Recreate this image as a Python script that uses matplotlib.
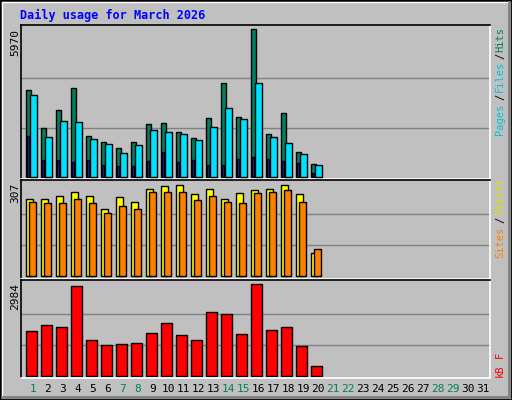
import matplotlib
matplotlib.use("Agg")
import matplotlib.pyplot as plt
from matplotlib.patches import Rectangle

days = list(range(1, 32))
n = 20  # days with data
hits = [3493, 1990, 2721, 3574, 1665, 1421, 1178, 1421, 2152, 2193,
        1828, 1584, 2396, 3777, 2437, 5970, 1746, 2599, 1015, 528]
files = [3318, 1612, 2262, 2221, 1531, 1328, 962, 1287, 1896, 1815,
         1734, 1490, 2018, 2790, 2343, 3805, 1612, 1368, 922, 475]
pages = [1652, 678, 678, 597, 678, 475, 434, 434, 637, 1003,
         597, 678, 475, 475, 719, 800, 719, 637, 556, 150]
visits = [252, 252, 262, 275, 262, 222, 259, 242, 285, 295,
          301, 269, 288, 252, 272, 282, 288, 301, 269, 75]
sites = [242, 239, 239, 255, 239, 206, 232, 219, 275, 278,
         278, 249, 262, 242, 239, 272, 275, 282, 245, 88]
kbytes = [1418, 1610, 1546, 2857, 1130, 970, 1002, 1034, 1354, 1674,
          1290, 1130, 2025, 1961, 1322, 2921, 1450, 1546, 938, 298]
weekend = [1, 7, 8, 14, 15, 21, 22, 28, 29]

BG = "#C0C0C0"
W, H = 512, 400
fig = plt.figure(figsize=(5.12, 4.0), dpi=100)
fig.patch.set_facecolor(BG)

# 3D frame
def px(x, y, w, h):
    return [x / W, 1 - (y + h) / H, w / W, h / H]

fig.add_artist(Rectangle((0, 0), 1, 1, transform=fig.transFigure, fill=False, ec="black", lw=2))
fig.add_artist(plt.Line2D([2 / W, 2 / W, 1 - 3 / W], [3 / H, 1 - 2 / H, 1 - 2 / H], transform=fig.transFigure, color="white", lw=1))
fig.add_artist(plt.Line2D([2 / W, 1 - 3 / W, 1 - 3 / W], [3 / H, 3 / H, 1 - 2 / H], transform=fig.transFigure, color="#808080", lw=2))

x = list(range(1, n + 1))
XL = (0.27, 31.53)


def setup(ax, ymin, ymax, grids):
    ax.set_facecolor(BG)
    ax.set_xlim(*XL)
    ax.set_ylim(ymin, ymax)
    ax.set_xticks([])
    ax.set_yticks([])
    for g in grids:
        ax.axhline(g, color="#808080", lw=1, zorder=0)
    ax.spines["top"].set_color("black")
    ax.spines["left"].set_color("black")
    ax.spines["bottom"].set_color("white")
    ax.spines["right"].set_color("white")
    for s in ax.spines.values():
        s.set_linewidth(1.2)


bar_kw = dict(align="edge", edgecolor="black", linewidth=1)

ax1 = fig.add_axes(px(21, 25, 469, 154))
setup(ax1, -81, 6133, [1990, 3980])
ax1.bar([i - 0.42 for i in x], hits, width=0.35, color="#008060", **bar_kw, zorder=2)
ax1.bar([i - 0.15 for i in x], files, width=0.47, color="#00E0FF", **bar_kw, zorder=3)
ax1.bar([i - 0.35 for i in x], pages, width=0.17, color="#0040FF", **bar_kw, zorder=2.5)

ax2 = fig.add_axes(px(21, 180, 469, 99))
setup(ax2, -10, 316, [102, 205])
ax2.bar([i - 0.42 for i in x], visits, width=0.49, color="#FFFF00", **bar_kw, zorder=2)
ax2.bar([i - 0.22 for i in x], sites, width=0.49, color="#FF8000", **bar_kw, zorder=3)

ax3 = fig.add_axes(px(21, 280, 469, 98))
setup(ax3, -74, 3062, [995, 1989])
ax3.bar([i - 0.4 for i in x], kbytes, width=0.71, color="#FF0000", **bar_kw, zorder=2)

mono = "DejaVu Sans Mono"
fig.text(20 / W, 1 - 15 / H, "Daily usage for March 2026", color="#0000FF",
         family=mono, fontweight="bold", fontsize=8.5, va="center", ha="left")

for label, ytop in [("5970", 29), ("307", 183), ("2984", 283)]:
    fig.text(15 / W, 1 - ytop / H, label, rotation=90, family=mono, fontsize=8,
             ha="center", va="top")

right = [("Hits", 40, "#008060"), ("/", 56, "black"), ("Files", 76, "#00C0E0"),
         ("/", 97, "black"), ("Pages", 119, "#00C0E0"),
         ("Visits", 196, "#E0E000"), ("/", 220, "black"), ("Sites", 242, "#FF8000"),
         ("F", 355, "#FF0000"), ("kB", 371, "#FF0000")]
for label, yc, col in right:
    fig.text(500 / W, 1 - yc / H, label, rotation=90, family=mono, fontsize=7.5,
             color=col, ha="center", va="center")

for d in days:
    xp = 21 + (d - XL[0]) / (XL[1] - XL[0]) * 469 + 1
    fig.text(xp / W, 1 - 389 / H, str(d), family=mono, fontsize=8,
             color="#008060" if d in weekend else "black", ha="center", va="center")

fig.savefig("out.png", dpi=100, facecolor=BG)
